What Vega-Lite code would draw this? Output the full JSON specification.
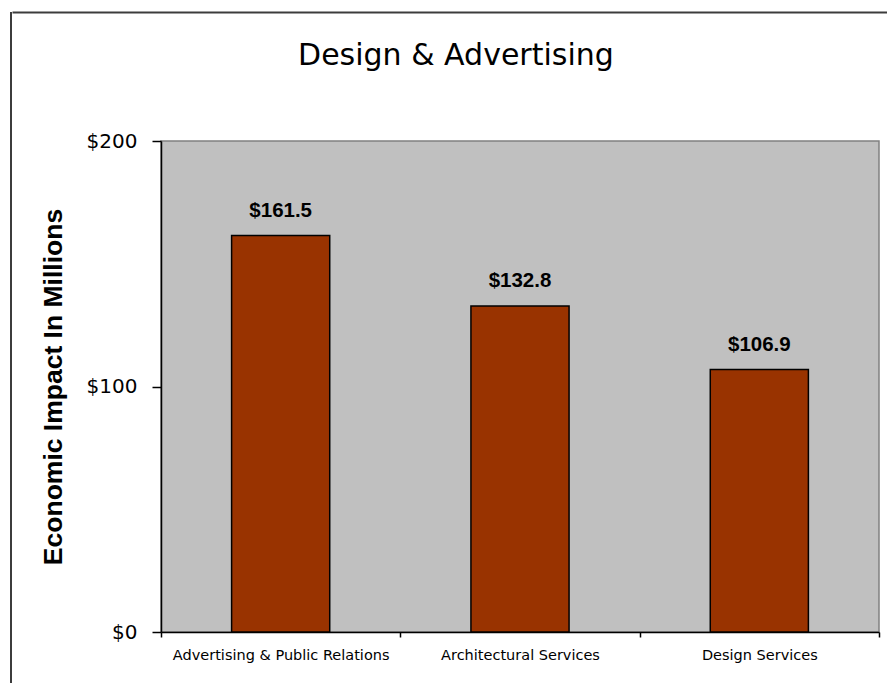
{
  "$schema": "https://vega.github.io/schema/vega-lite/v6.json",
  "background": "white",
  "padding": {"left": 10, "top": 12, "right": 0, "bottom": 0},
  "spacing": 27,
  "hconcat": [
    {
      "width": 2,
      "height": 690,
      "view": {"fill": "#3c3c3c", "stroke": null},
      "data": {"values": []},
      "mark": "point"
    },
    {
      "spacing": 27,
      "vconcat": [
        {
          "width": 718,
          "height": 1,
          "view": {"fill": null, "stroke": null},
          "data": {"values": []},
          "mark": "point",
          "encoding": {
            "x": {
              "datum": 0,
              "type": "quantitative",
              "scale": {"domain": [0, 1], "range": [-149, 740]},
              "axis": {
                "orient": "top",
                "title": null,
                "labels": false,
                "ticks": false,
                "grid": false,
                "domainColor": "#3c3c3c",
                "domainWidth": 2
              }
            }
          }
        },
        {
          "width": 718,
          "height": 491,
          "view": {"fill": "#C0C0C0", "stroke": "#808080", "strokeWidth": 1.5},
          "title": {
            "text": "Design & Advertising",
            "font": "DejaVu Sans",
            "fontSize": 30,
            "fontWeight": "normal",
            "color": "black",
            "anchor": "middle",
            "frame": "bounds",
            "offset": 60,
            "dx": -4
          },
          "data": {
            "values": [
              {"category": "Advertising & Public Relations", "impact": 161.5},
              {"category": "Architectural Services", "impact": 132.8},
              {"category": "Design Services", "impact": 106.9}
            ]
          },
          "encoding": {
            "x": {
              "field": "category",
              "type": "nominal",
              "sort": null,
              "scale": {"paddingInner": 0, "paddingOuter": 0},
              "axis": {
                "title": null,
                "labelAngle": 0,
                "labelLimit": 0,
                "labelFont": "DejaVu Sans",
                "labelFontSize": 14.5,
                "labelColor": "black",
                "labelPadding": 11,
                "tickSize": 5,
                "tickColor": "black",
                "tickWidth": 1.5,
                "tickBand": "extent",
                "domainColor": "black",
                "domainWidth": 1.5
              }
            },
            "y": {
              "field": "impact",
              "type": "quantitative",
              "scale": {"domain": [0, 200], "nice": false},
              "axis": {
                "title": "Economic Impact In Millions",
                "titleFont": "Liberation Sans",
                "titleFontSize": 26.5,
                "titleFontWeight": "bold",
                "titleColor": "black",
                "titlePadding": 19,
                "values": [0, 100, 200],
                "format": "$.0f",
                "labelFont": "DejaVu Sans",
                "labelFontSize": 20,
                "labelColor": "black",
                "labelPadding": 15,
                "tickSize": 9,
                "tickColor": "black",
                "tickWidth": 1.5,
                "domainColor": "black",
                "domainWidth": 1.5,
                "grid": false
              }
            }
          },
          "layer": [
            {
              "mark": {
                "type": "bar",
                "width": {"band": 0.41},
                "fill": "#993300",
                "stroke": "black",
                "strokeWidth": 1.5
              }
            },
            {
              "mark": {
                "type": "text",
                "font": "Liberation Sans",
                "fontWeight": "bold",
                "fontSize": 20.5,
                "baseline": "alphabetic",
                "dy": -19,
                "color": "black"
              },
              "encoding": {
                "text": {"field": "impact", "type": "quantitative", "format": "$.1f"}
              }
            }
          ]
        }
      ]
    }
  ]
}
